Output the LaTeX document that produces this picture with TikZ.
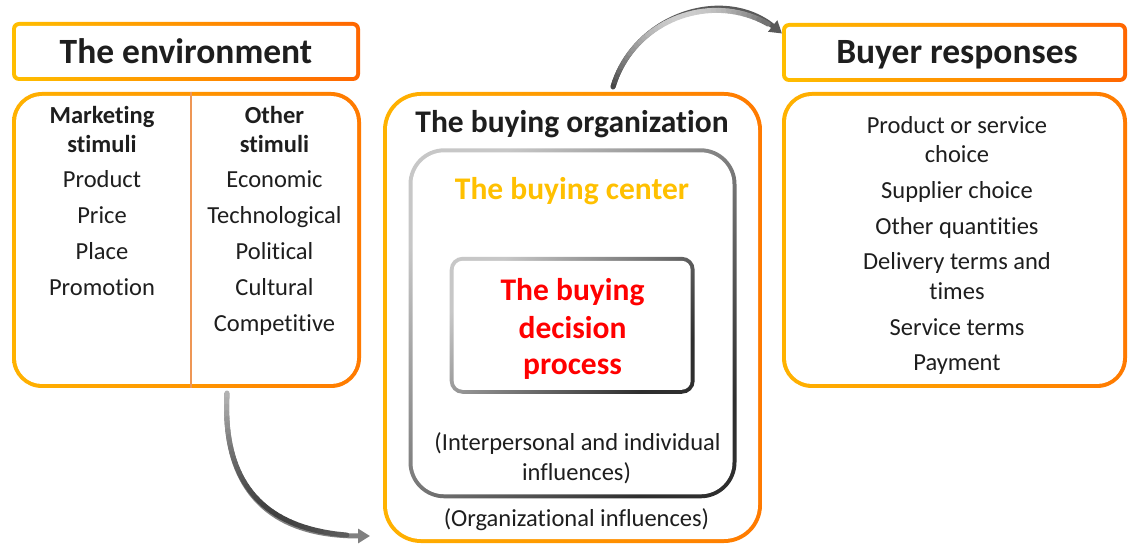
\documentclass[tikz,border=0pt]{standalone}
\usepackage{fontspec}
\setmainfont{Carlito}[Ligatures={NoCommon}]
\usetikzlibrary{arrows.meta}
\definecolor{oyel}{RGB}{255,190,0}
\definecolor{oyel2}{RGB}{255,178,0}
\definecolor{ored}{RGB}{255,102,0}
\definecolor{ored2}{RGB}{255,122,0}
\definecolor{divc}{RGB}{238,150,85}
\definecolor{txt}{RGB}{30,30,30}
\definecolor{cent}{RGB}{255,192,0}
\newcommand\FTitle{\fontsize{35.5}{40}\selectfont\bfseries}
\newcommand\FHead{\fontsize{31.5}{36}\selectfont\bfseries}
\newcommand\FBody{\fontsize{24.5}{30}\selectfont}
\newcommand\FBodyB{\fontsize{24.5}{29}\selectfont\bfseries}
\pgfmathdeclarefunction{bz}{5}{%
  \begingroup
  \pgfmathparse{(1-#1)*(1-#1)*(1-#1)*(#2)+3*(1-#1)*(1-#1)*(#1)*(#3)+3*(1-#1)*(#1)*(#1)*(#4)+(#1)*(#1)*(#1)*(#5)}%
  \pgfmathsmuggle\pgfmathresult
  \endgroup}
\tikzset{
  outerbox/.style={rectangle, inner sep=0pt, outer sep=0pt, draw=none},
  innerbox/.style={rectangle, inner sep=0pt, outer sep=0pt, draw=none, fill=white},
  obox/.style={left color=oyel2, right color=ored2},
  tbox/.style={left color=oyel, right color=ored},
  gbox/.style={top color=black!22, bottom color=black!82, shading angle=45},
  lbl/.style={anchor=base, inner sep=0pt, text=txt, font=\FBody},
  lblb/.style={anchor=base, inner sep=0pt, text=txt, font=\FBodyB},
  ttl/.style={anchor=base, inner sep=0pt, text=txt, font=\FTitle},
  hd/.style={anchor=base, inner sep=0pt, font=\FHead},
  arr/.style={line width=5pt, -{Triangle[length=12pt,width=14pt]}},
}
\begin{document}
\begin{tikzpicture}[x=1pt,y=-1pt]
\useasboundingbox (0,0) rectangle (1128,545);
\fill[white] (0,0) rectangle (1128,545);

% Environment title
\node[outerbox, tbox, rounded corners=7pt, minimum width=348pt, minimum height=59pt] (envT) at (186,51.5) {};
\node[innerbox, rounded corners=3pt, minimum width=340pt, minimum height=51pt] (envTi) at (envT) {};
\node[ttl] (envTt) at (186,63.3) {The environment};

% Environment content
\node[outerbox, obox, rounded corners=30pt, minimum width=349pt, minimum height=296pt] (env) at (186.5,240) {};
\node[innerbox, rounded corners=26pt, minimum width=341pt, minimum height=288pt] (envi) at (env) {};
\draw[divc, line width=2.6pt] (env.north -| 191,0) coordinate (dv1) -- (env.south -| 191,0) coordinate (dv2);

\node[lblb] (m1) at (102,124) {Marketing};
\node[lblb] (m2) at (102,153) {stimuli};
\node[lbl] (m3) at (102,188) {Product};
\node[lbl] (m4) at (102,224) {Price};
\node[lbl] (m5) at (102,260) {Place};
\node[lbl] (m6) at (102,296) {Promotion};

\node[lblb] (o1) at (274.5,124) {Other};
\node[lblb] (o2) at (274.5,153) {stimuli};
\node[lbl] (o3) at (274.5,188) {Economic};
\node[lbl] (o4) at (274.5,224) {Technological};
\node[lbl] (o5) at (274.5,260) {Political};
\node[lbl] (o6) at (274.5,296) {Cultural};
\node[lbl] (o7) at (274.5,332) {Competitive};

% Buying organization
\node[outerbox, obox, rounded corners=38pt, minimum width=379pt, minimum height=451pt] (org) at (572.5,317.5) {};
\node[innerbox, rounded corners=34pt, minimum width=371pt, minimum height=443pt] (orgi) at (org) {};
\node[hd, text=txt] (orgt) at (572,132.3) {The buying organization};

\node[outerbox, gbox, rounded corners=36pt, minimum width=328pt, minimum height=350pt] (cen) at (572.5,323.3) {};
\node[innerbox, rounded corners=32pt, minimum width=320pt, minimum height=342pt] (ceni) at (cen) {};
\node[hd, text=cent] (cent) at (572,200) {The buying center};

\node[outerbox, gbox, rounded corners=13pt, minimum width=245pt, minimum height=137pt] (dec) at (572.2,325.3) {};
\node[innerbox, rounded corners=9pt, minimum width=237pt, minimum height=129pt] (deci) at (dec) {};
\node[hd, text=red] (d1) at (572.5,301) {The buying};
\node[hd, text=red] (d2) at (572.5,338.3) {decision};
\node[hd, text=red] (d3) at (572.5,375) {process};

\node[lbl] (i1) at (577.5,450.7) {(Interpersonal and individual};
\node[lbl] (i2) at (576.5,480) {influences)};
\node[lbl] (i3) at (576.5,526.7) {(Organizational influences)};

% Buyer responses title
\node[outerbox, tbox, rounded corners=7pt, minimum width=345pt, minimum height=59pt] (brT) at (954.5,52.5) {};
\node[innerbox, rounded corners=3pt, minimum width=337pt, minimum height=51pt] (brTi) at (brT) {};
\node[ttl] (brTt) at (957,64) {Buyer responses};

% Buyer responses content
\node[outerbox, obox, rounded corners=30pt, minimum width=345pt, minimum height=296pt] (br) at (954.5,240) {};
\node[innerbox, rounded corners=26pt, minimum width=337pt, minimum height=288pt] (bri) at (br) {};
\node[lbl] (r1) at (957,133.3) {Product or service};
\node[lbl] (r2) at (957,162.7) {choice};
\node[lbl] (r3) at (957,199) {Supplier choice};
\node[lbl] (r4) at (957,234.3) {Other quantities};
\node[lbl] (r5) at (957,270) {Delivery terms and};
\node[lbl] (r6) at (957,299.3) {times};
\node[lbl] (r7) at (957,335.3) {Service terms};
\node[lbl] (r8) at (957,370.7) {Payment};

% Arrow 1: environment -> buying organization
\coordinate (a1s) at (227,393);
\coordinate (a1c1) at (222,482);
\coordinate (a1c2) at (262,536);
\coordinate (a1e) at (370,536);
\draw[arr, black!50] (a1s) .. controls (a1c1) and (a1c2) .. (a1e);
\foreach \i in {0,...,36}{
  \pgfmathsetmacro\ta{\i/40}
  \pgfmathsetmacro\tb{(\i+1)/40}
  \pgfmathsetmacro\xa{bz(\ta,227,222,262,370)}
  \pgfmathsetmacro\ya{bz(\ta,393,482,536,536)}
  \pgfmathsetmacro\xb{bz(\tb,227,222,262,370)}
  \pgfmathsetmacro\yb{bz(\tb,393,482,536,536)}
  \pgfmathtruncatemacro\p{30+45*sin(144*\ta)}
  \draw[line width=5pt, line cap=round, black!\p] (\xa,\ya) -- (\xb,\yb);
}

% Arrow 2: buying organization -> buyer responses
\coordinate (a2s) at (613,87);
\coordinate (a2c1) at (634,15.5);
\coordinate (a2c2) at (723,-14);
\coordinate (a2e) at (782,33.5);
\draw[arr, black!65] (a2s) .. controls (a2c1) and (a2c2) .. (a2e);
\foreach \i in {0,...,36}{
  \pgfmathsetmacro\ta{\i/40}
  \pgfmathsetmacro\tb{(\i+1)/40}
  \pgfmathsetmacro\xa{bz(\ta,613,634,723,782)}
  \pgfmathsetmacro\ya{bz(\ta,87,15.5,-14,33.5)}
  \pgfmathsetmacro\xb{bz(\tb,613,634,723,782)}
  \pgfmathsetmacro\yb{bz(\tb,87,15.5,-14,33.5)}
  \pgfmathtruncatemacro\p{72-52*sin(180*\ta)}
  \draw[line width=5pt, line cap=round, black!\p] (\xa,\ya) -- (\xb,\yb);
}
\end{tikzpicture}
\end{document}
